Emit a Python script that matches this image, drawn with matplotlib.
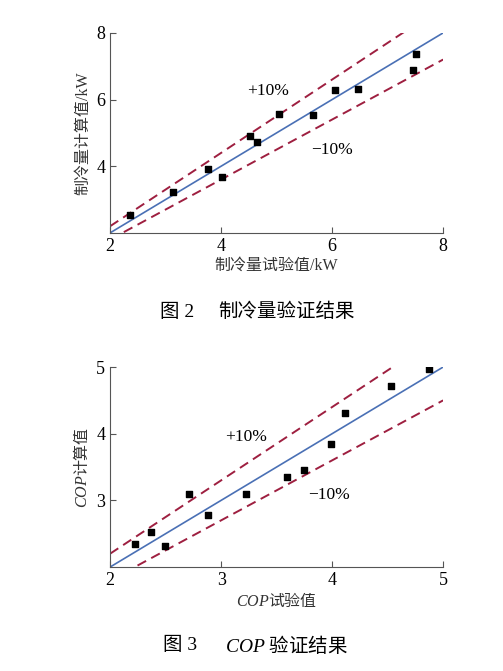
import numpy as np
import matplotlib
matplotlib.use('Agg')
import matplotlib.pyplot as plt

plt.rcParams['font.family'] = ['Liberation Serif', 'Noto Sans CJK SC']
plt.rcParams['mathtext.fontset'] = 'custom'
plt.rcParams['mathtext.it'] = 'Liberation Serif:italic'
plt.rcParams['mathtext.rm'] = 'Noto Sans CJK SC'

# fig 2: cooling capacity (kW)
q_test = [2.36, 3.13, 3.76, 4.02, 4.52, 4.64, 5.04, 5.66, 6.05, 6.47, 7.46, 7.51]
q_calc = [2.53, 3.24, 3.92, 3.68, 4.92, 4.72, 5.58, 5.53, 6.30, 6.32, 6.88, 7.36]

# fig 3: COP
cop_test = [2.22, 2.37, 2.49, 2.71, 2.88, 3.22, 3.59, 3.75, 3.99, 4.12, 4.53, 4.87]
cop_calc = [2.34, 2.53, 2.32, 3.10, 2.78, 3.09, 3.35, 3.45, 3.85, 4.31, 4.72, 4.97]

BLUE = '#4a70b5'
RED = '#9e1f40'


def draw_panel(ax, xs, ys, lo, hi, ticks, xlabel, ylabel, plus_pos, minus_pos):
    line = np.array([lo, hi])
    ax.plot(line, line, color=BLUE, lw=1.2)
    ax.plot(line, line * 1.1, color=RED, lw=1.4, ls=(0, (5, 3)))
    ax.plot(line, line * 0.9, color=RED, lw=1.4, ls=(0, (5, 3)))
    ax.scatter(xs, ys, marker='s', s=22, color='black', zorder=3)
    ax.set_xlim(lo, hi)
    ax.set_ylim(lo, hi)
    ax.set_xticks(ticks)
    ax.set_yticks(ticks[1:])
    ax.spines['top'].set_visible(False)
    ax.spines['right'].set_visible(False)
    ax.spines['left'].set_color('#555555')
    ax.spines['bottom'].set_color('#555555')
    ax.tick_params(direction='in', length=4, labelsize=13, color='#555555')
    ax.set_xlabel(xlabel, fontsize=11.5, color='#333333', labelpad=2)
    ax.set_ylabel(ylabel, fontsize=11.5, color='#333333', labelpad=4)
    ax.text(plus_pos[0], plus_pos[1], '+10%', fontsize=12.5, ha='center', va='center')
    ax.text(minus_pos[0], minus_pos[1], '\u221210%', fontsize=12.5, ha='center', va='center')


fig = plt.figure(figsize=(5.03, 6.71), dpi=100)

ax1 = fig.add_axes([0.219, 0.653, 0.662, 0.298])
draw_panel(ax1, q_test, q_calc, 2, 8, [2, 4, 6, 8],
           '制冷量试验值/kW', '制冷量计算值/kW', (4.85, 6.25), (5.99, 4.5))

ax2 = fig.add_axes([0.219, 0.155, 0.662, 0.298])
draw_panel(ax2, cop_test, cop_calc, 2, 5, [2, 3, 4, 5],
           r'$\mathit{COP}\mathrm{试验值}$', r'$\mathit{COP}\mathrm{计算值}$',
           (3.22, 3.95), (3.97, 3.08))

# captions
fig.text(160 / 503, 1 - 312 / 671, '图 2', fontsize=14, ha='left', va='center')
fig.text(218 / 503, 1 - 312 / 671, '制冷量验证结果', fontsize=14, ha='left', va='center')
fig.text(163 / 503, 1 - 645 / 671, '图 3', fontsize=14, ha='left', va='center')
fig.text(225 / 503, 1 - 645 / 671, r'$\mathit{COP}\ \mathrm{验证结果}$', fontsize=14,
         ha='left', va='center')

fig.savefig('out.png', dpi=100)
